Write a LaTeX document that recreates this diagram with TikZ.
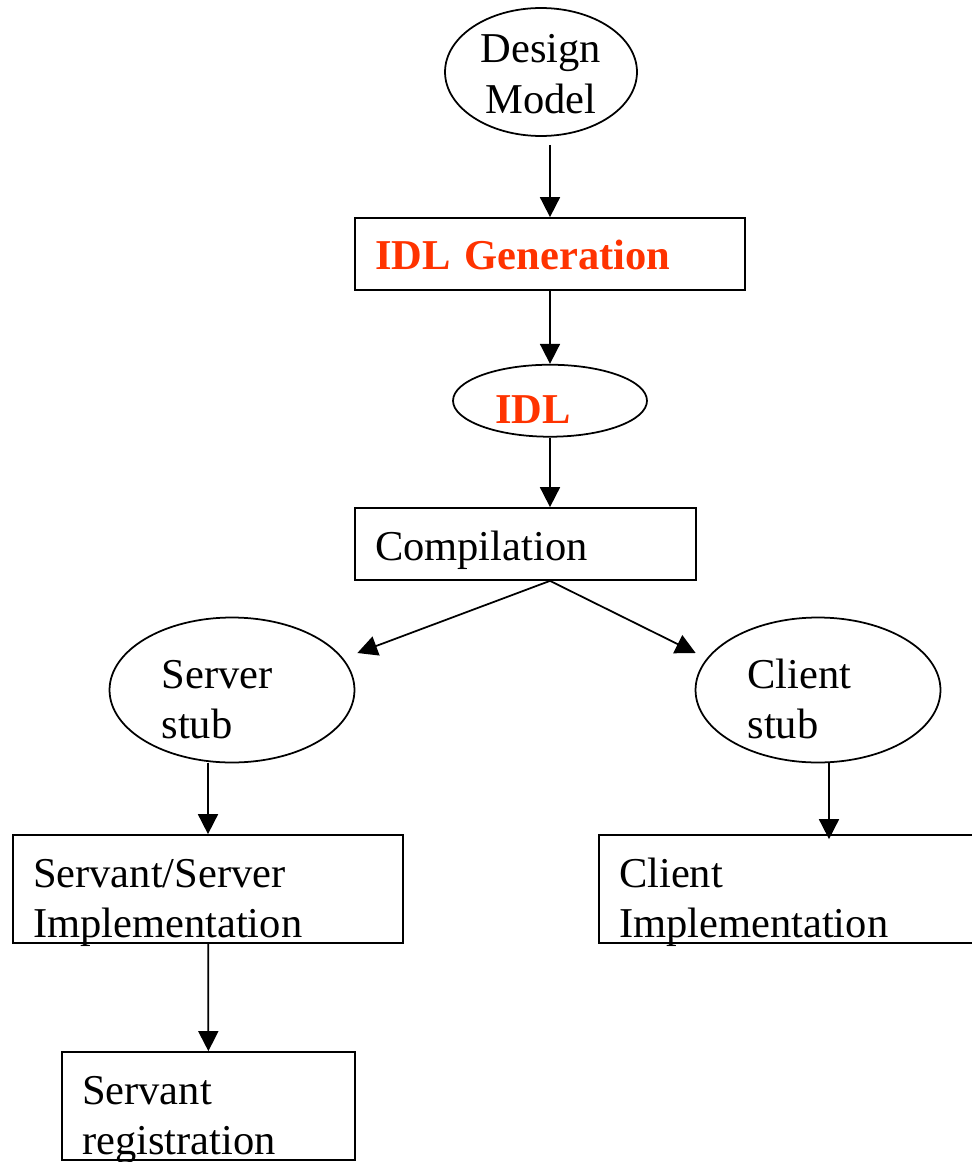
\documentclass[tikz,border=0pt]{standalone}
\usepackage{fontspec}
\setmainfont{Liberation Serif}
\usetikzlibrary{arrows.meta,positioning,calc,shapes.geometric}
\definecolor{idlred}{RGB}{255,51,0}

\tikzset{
  oval/.style={draw, ellipse, inner sep=0pt},
  stub/.style={oval, minimum width=4.9cm, minimum height=2.9cm, text width=2.82cm, align=left, text height=0.94cm, text depth=1.02cm},
  onebox/.style={draw, rectangle, inner xsep=0.4cm, inner ysep=0pt, align=left, text height=1.04cm, text depth=0.4cm},
  twobox/.style={onebox, text depth=1.12cm},
  flow/.style={-{Triangle[length=0.4cm,width=0.4cm]}},
}

\begin{document}
\begin{tikzpicture}[x=0.02cm, y=-0.02cm, line width=1pt,
    every node/.style={font=\fontsize{24.2}{29}\selectfont}]
    \useasboundingbox (0,0) rectangle (972,1162);
    \clip (0,0) rectangle (972,1162);

    \node[oval, minimum width=3.84cm, minimum height=2.56cm, text width=2.6cm, align=center, text height=0.64cm, text depth=1.01cm] (dm) at (541,72) {Design\\Model};
    \node[onebox, text width=7cm, text=idlred] (gen) at (550,254) {\bfseries IDL Generation};
    \node[oval, minimum width=3.88cm, minimum height=1.44cm, text width=2.2cm, align=left, text height=0.9cm, text depth=0pt, text=idlred] (idl) [below=1.46cm of gen] {\bfseries IDL};
    \node[onebox, text width=6.02cm] (comp) at (525.5,544) {Compilation};

    \node[stub] (sstub) at (232,690) {Server\\stub};
    \node[stub] (cstub) at (818,690) {Client\\stub};

    \node[twobox, text width=7cm] (ssimpl) at (208,889) {Servant/Server\\Implementation};
    \node[twobox, text width=7cm] (cimpl) at (794,889) {Client\\Implementation};
    \node[twobox, text width=5.06cm] (sreg) at (208.5,1106) {Servant\\registration};

    \coordinate (split) at (idl.south |- comp.south);
    \coordinate (ctop) at ($(cstub.south)+(11,0)$);

    \draw[flow, shorten <=0.16cm] (gen.north |- dm.south) -- (gen.north);
    \draw[flow] (gen) -- (idl);
    \draw[flow] (idl) -- (idl.south |- comp.north);
    \draw[flow] (split) -- ($(sstub.east)+(2,-37)$);
    \draw[flow] (split) -- ($(cstub.west)+(1,-37)$);
    \draw[flow] (ssimpl.north |- sstub.south) -- (ssimpl.north);
    \draw[flow, shorten >=-0.1cm] (ctop) -- (ctop |- cimpl.north);
    \draw[flow] (ssimpl) -- (sreg);
\end{tikzpicture}
\end{document}
